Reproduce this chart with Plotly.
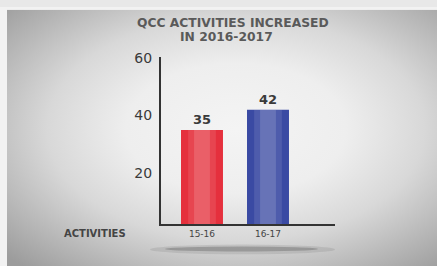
import base64
import plotly.graph_objects as go

# ---- data ----
categories = ["15-16", "16-17"]
activities = [35, 42]
bar_colors = ["#e5303d", "#3a4aa3"]
y_ticks = [20, 40, 60]
title_lines = ["QCC ACTIVITIES INCREASED", "IN 2016-2017"]
row_label = "ACTIVITIES"

W, H = 437, 266
def px(x): return x / W
def py(y): return 1 - y / H

FONT = "DejaVu Sans, Liberation Sans, Arial, sans-serif"

# background: radial gray gradient as inline SVG
svg = f'''<svg xmlns="http://www.w3.org/2000/svg" width="{W}" height="{H}" viewBox="0 0 {W} {H}" preserveAspectRatio="none">
<defs><radialGradient id="g" cx="0.54" cy="0.47" r="0.72">
<stop offset="0" stop-color="#f4f4f4"/>
<stop offset="0.35" stop-color="#eeeeee"/>
<stop offset="0.6" stop-color="#d8d8d8"/>
<stop offset="0.8" stop-color="#bababa"/>
<stop offset="1" stop-color="#9c9c9c"/>
</radialGradient></defs>
<rect width="{W}" height="{H}" fill="url(#g)"/>
<rect x="0" y="0" width="{W}" height="3" fill="#f2f2f2"/>
<rect x="0" y="0" width="7" height="{H}" fill="#f2f2f2"/>
</svg>'''
bg_src = "data:image/svg+xml;base64," + base64.b64encode(svg.encode()).decode()

fig = go.Figure()
fig.add_trace(go.Bar(
    x=categories, y=activities, width=0.636,
    marker=dict(color=bar_colors, line=dict(width=0)),
    text=["<b>" + str(v) + "</b>" for v in activities], textposition="outside",
    textfont=dict(family=FONT, size=13, color="#3a3a3a"),
    cliponaxis=False, hoverinfo="skip",
))
# soft highlight in bar centres
for w, a in [(0.42, 0.10), (0.24, 0.14)]:
    fig.add_trace(go.Bar(
        x=categories, y=activities, width=w,
        marker=dict(color=f"rgba(255,255,255,{a})", line=dict(width=0)),
        hoverinfo="skip",
    ))

fig.update_layout(
    width=W, height=H, margin=dict(l=0, r=0, t=0, b=0),
    paper_bgcolor="#e8e8e8", plot_bgcolor="rgba(0,0,0,0)",
    showlegend=False, barmode="overlay",
    xaxis=dict(domain=[px(161), px(335)], range=[-0.621, 2.015],
               showgrid=False, zeroline=False, showline=True,
               linecolor="#333333", linewidth=2, ticks="",
               ticklabelstandoff=0,
               tickfont=dict(family=FONT, size=9, color="#444444")),
    yaxis=dict(domain=[py(223), py(51)], range=[2.4, 60.4],
               tickvals=y_ticks, showgrid=False, zeroline=False,
               showline=True, linecolor="#333333", linewidth=2, ticks="",
               ticklabelstandoff=4,
               tickfont=dict(family=FONT, size=14, color="#3a3a3a")),
    images=[dict(source=bg_src, xref="paper", yref="paper", x=0, y=1,
                 sizex=1, sizey=1, sizing="stretch", layer="below")],
    shapes=[
        dict(type="circle", xref="paper", yref="paper",
             x0=px(150), x1=px(335), y0=py(244), y1=py(254),
             fillcolor="rgba(90,90,90,0.15)", line=dict(width=0)),
        dict(type="circle", xref="paper", yref="paper",
             x0=px(165), x1=px(318), y0=py(246), y1=py(251),
             fillcolor="rgba(70,70,70,0.3)", line=dict(width=0)),
    ],
    annotations=[
        dict(text="<b>" + title_lines[0] + "</b>", x=px(233), y=py(16.5),
             xref="paper", yref="paper", xanchor="center", yanchor="middle",
             showarrow=False, font=dict(family=FONT, size=12.3, color="#5a5a5a")),
        dict(text="<b>" + title_lines[1] + "</b>", x=px(226), y=py(31),
             xref="paper", yref="paper", xanchor="center", yanchor="middle",
             showarrow=False, font=dict(family=FONT, size=12.3, color="#5a5a5a")),
        dict(text="<b>" + row_label + "</b>", x=px(95), y=py(233),
             xref="paper", yref="paper", xanchor="center", yanchor="middle",
             showarrow=False, font=dict(family=FONT, size=10, color="#444444")),
    ],
)

fig.write_html("out.html", config={"displayModeBar": False},
               post_script="document.body.style.margin='0';")
